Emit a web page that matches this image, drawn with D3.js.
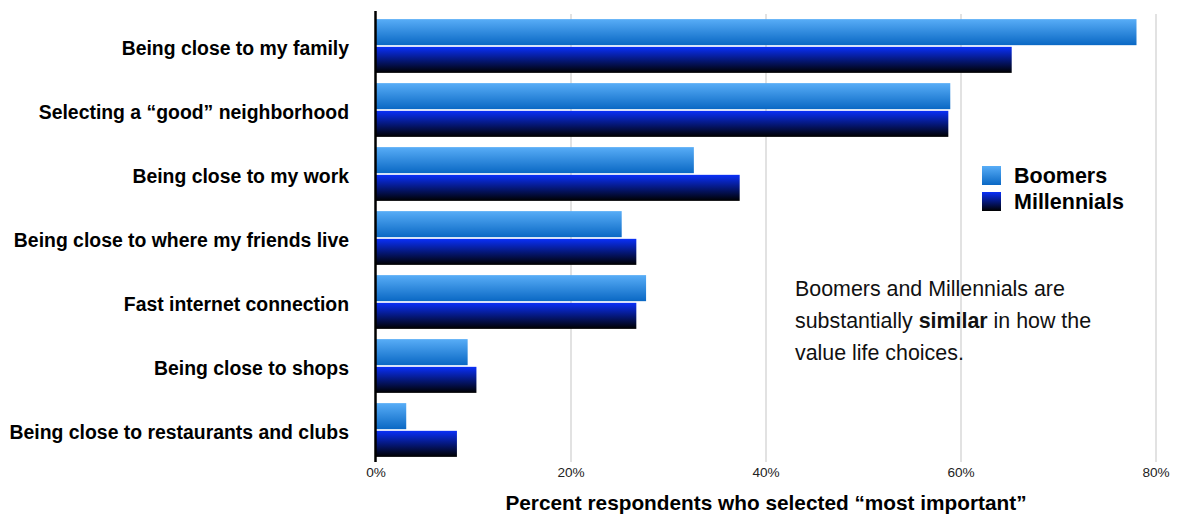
<!DOCTYPE html>
<html>
<head>
<meta charset="utf-8">
<script src="https://cdn.jsdelivr.net/npm/d3@7"></script>
<style>
    body { margin: 0; background: #fff; }
    svg { font-family: 'Liberation Sans', Arial, sans-serif; display: block; }
    .cat-label { font-size: 19.4px; font-weight: bold; fill: #000; }
    .tick-label { font-size: 13.6px; fill: #222; }
</style>
</head>
<body>
<svg id="chart"></svg>
<script>
const categories = [
    'Being close to my family',
    'Selecting a “good” neighborhood',
    'Being close to my work',
    'Being close to where my friends live',
    'Fast internet connection',
    'Being close to shops',
    'Being close to restaurants and clubs',
];
const boomers = [78, 58.9, 32.6, 25.2, 27.7, 9.4, 3.1];
const millennials = [65.2, 58.7, 37.3, 26.7, 26.7, 10.3, 8.3];
const seriesNames = ['Boomers', 'Millennials'];
const tickValues = [0, 20, 40, 60, 80];

// Chart dimensions.
const width = 1181;
const height = 514;
const marginLeft = 376;
const marginRight = 25;
const plotTop = 14;
const plotBottom = 462;

const rows = categories.map((c, i) => ({ category: c, Boomers: boomers[i], Millennials: millennials[i] }));

const svg = d3.select('#chart').attr('width', width).attr('height', height);

// Gradients for the bars.
const defs = svg.append('defs');
const gradients = {
    Boomers: [['0%', '#58adf7'], ['100%', '#0a68c4']],
    Millennials: [['0%', '#0a30f8'], ['100%', '#000000']],
};
Object.entries(gradients).forEach(([name, stops]) => {
    const g = defs.append('linearGradient')
        .attr('id', 'grad-' + name)
        .attr('x1', 0).attr('y1', 0).attr('x2', 0).attr('y2', 1);
    stops.forEach(([offset, color]) => g.append('stop').attr('offset', offset).attr('stop-color', color));
});

// X scale.
const x = d3.scaleLinear().domain([0, 80]).range([marginLeft, width - marginRight]);

// Y scales.
const y = d3.scaleBand().domain(categories).range([plotTop, plotBottom]).paddingInner(0.16).paddingOuter(0.08);
const ySub = d3.scaleBand().domain(seriesNames).range([0, y.bandwidth()]).paddingInner(0.06);

// Gridlines.
svg.append('g')
    .selectAll('line')
    .data(tickValues.filter(t => t > 0))
    .enter()
    .append('line')
    .attr('x1', d => x(d)).attr('x2', d => x(d))
    .attr('y1', plotTop).attr('y2', plotBottom)
    .attr('stroke', '#d9d9d9')
    .attr('stroke-width', 1.5);

// Tick labels.
svg.append('g')
    .selectAll('text')
    .data(tickValues)
    .enter()
    .append('text')
    .attr('class', 'tick-label')
    .attr('x', d => x(d))
    .attr('y', 477)
    .attr('text-anchor', 'middle')
    .text(d => d + '%');

// Bars.
const groups = svg.append('g')
    .selectAll('g')
    .data(rows)
    .enter()
    .append('g')
    .attr('transform', d => `translate(0, ${y(d.category)})`);

groups.selectAll('rect')
    .data(d => seriesNames.map(s => ({ series: s, value: d[s] })))
    .enter()
    .append('rect')
    .attr('x', x(0))
    .attr('y', d => ySub(d.series))
    .attr('width', d => x(d.value) - x(0))
    .attr('height', ySub.bandwidth())
    .attr('fill', d => `url(#grad-${d.series})`);

// Category labels.
svg.append('g')
    .selectAll('text')
    .data(categories)
    .enter()
    .append('text')
    .attr('class', 'cat-label')
    .attr('x', 349)
    .attr('y', d => y(d) + y.bandwidth() / 2)
    .attr('dy', '0.47em')
    .attr('text-anchor', 'end')
    .text(d => d);

// Y axis line.
svg.append('line')
    .attr('x1', x(0) - 0.5).attr('x2', x(0) - 0.5)
    .attr('y1', 11).attr('y2', plotBottom)
    .attr('stroke', '#000')
    .attr('stroke-width', 2.5);

// X axis title.
svg.append('text')
    .attr('x', x(40))
    .attr('y', 510)
    .attr('text-anchor', 'middle')
    .style('font-size', '20.8px')
    .style('font-weight', 'bold')
    .text('Percent respondents who selected “most important”');

// Legend.
const legend = svg.append('g').attr('transform', 'translate(982, 166)');
seriesNames.forEach((s, i) => {
    const item = legend.append('g').attr('transform', `translate(0, ${i * 26})`);
    item.append('rect').attr('width', 19).attr('height', 19).attr('fill', `url(#grad-${s})`);
    item.append('text')
        .attr('x', 32)
        .attr('y', 17)
        .style('font-size', '21.5px')
        .style('font-weight', 'bold')
        .text(s);
});

// Annotation.
const note = svg.append('text').attr('x', 795).style('font-size', '21.4px').attr('fill', '#111');
note.append('tspan').attr('x', 795).attr('y', 296).text('Boomers and Millennials are');
const line2 = note.append('tspan').attr('x', 795).attr('y', 328);
line2.append('tspan').text('substantially ');
line2.append('tspan').style('font-weight', 'bold').text('similar');
line2.append('tspan').text(' in how the');
note.append('tspan').attr('x', 795).attr('y', 360).text('value life choices.');
</script>
</body>
</html>
